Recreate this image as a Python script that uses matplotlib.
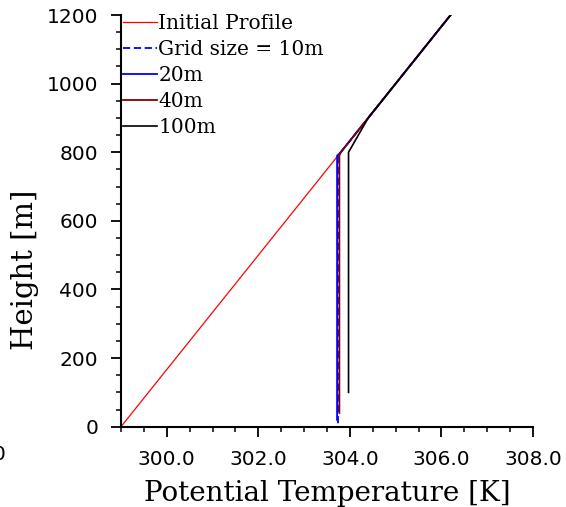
import matplotlib
matplotlib.use("Agg")
import matplotlib.pyplot as plt
from matplotlib.ticker import MultipleLocator, FormatStrFormatter

# potential temperature profiles [K] against height [m]
z_init = [0, 1200]
theta_init = [299.0, 306.2]

z_10 = [10, 790, 800, 1200]
theta_10 = [303.74, 303.74, 303.80, 306.2]

z_20 = [20, 790, 800, 1200]
theta_20 = [303.72, 303.72, 303.80, 306.2]

z_40 = [40, 790, 800, 1200]
theta_40 = [303.77, 303.77, 303.80, 306.2]

z_100 = [100, 800, 900, 1200]
theta_100 = [303.97, 303.97, 304.40, 306.2]

labels = ["Initial Profile", "Grid size = 10m", "20m", "40m", "100m"]

fig = plt.figure(figsize=(5.66, 5.07), dpi=100)
ax = fig.add_axes([0.2138, 0.1584, 0.7279, 0.812])

ax.plot(theta_init, z_init, color="#ff0000", lw=0.9, label=labels[0])
ax.plot(theta_10, z_10, color="#0000ff", lw=1.3, ls=(0, (4, 2)), label=labels[1])
ax.plot(theta_20, z_20, color="#0000ff", lw=1.3, label=labels[2])
ax.plot(theta_40, z_40, color="#800000", lw=1.3, label=labels[3])
ax.plot(theta_100, z_100, color="black", lw=1.2, label=labels[4])

ax.set_xlim(299.0, 308.0)
ax.set_ylim(0, 1200)

ax.spines["top"].set_visible(False)
ax.spines["right"].set_visible(False)
ax.spines["left"].set_linewidth(1.5)
ax.spines["bottom"].set_linewidth(1.5)

ax.xaxis.set_major_locator(MultipleLocator(2.0))
ax.xaxis.set_minor_locator(MultipleLocator(0.5))
ax.xaxis.set_major_formatter(FormatStrFormatter("%.1f"))
ax.yaxis.set_major_locator(MultipleLocator(200))
ax.yaxis.set_minor_locator(MultipleLocator(50))

ax.tick_params(which="major", direction="out", length=7.5, width=1.3,
               labelsize=14.5, pad=9)
ax.tick_params(which="minor", direction="out", length=3.8, width=1.1)
for lab in ax.get_xticklabels() + ax.get_yticklabels():
    lab.set_family("DejaVu Sans")

ax.set_xlabel("Potential Temperature [K]", family="DejaVu Serif",
              fontsize=20, labelpad=8)
ax.set_ylabel("Height [m]", family="DejaVu Serif", fontsize=21)
ax.yaxis.set_label_coords(-0.2, 0.38)

leg = ax.legend(loc="upper left", bbox_to_anchor=(0.0, 1.008), frameon=False,
                prop={"family": "DejaVu Serif", "size": 14.5},
                handlelength=1.7, handletextpad=0.05, labelspacing=0.35,
                borderpad=0.0, borderaxespad=0.1)

# clipped label at the far left edge
fig.text(-0.002, 1 - 455 / 507, "0", family="DejaVu Sans", fontsize=14.5,
         ha="center", va="center")

fig.savefig("out.png", dpi=100)
